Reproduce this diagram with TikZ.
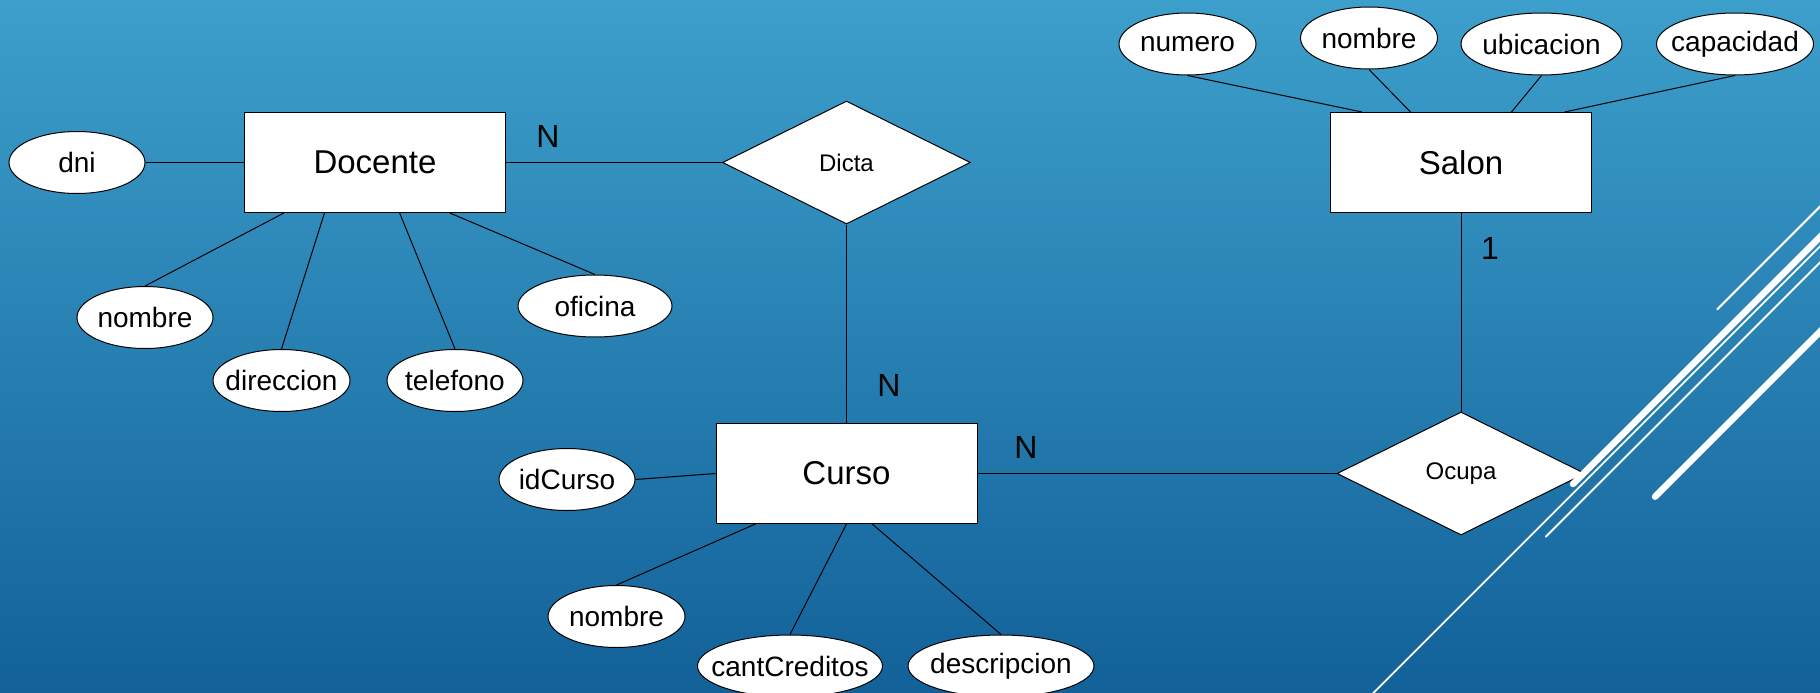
\documentclass[tikz,border=0pt]{standalone}
\usepackage{fontspec}
\setmainfont{Liberation Sans}
\usetikzlibrary{shapes.geometric}
\definecolor{bgtop}{RGB}{61,159,203}
\definecolor{bgbot}{RGB}{18,97,153}
\newcommand\Tag[1]{\makebox[0pt]{#1}}
\tikzset{
  entity/.style={
    draw,
    fill=white,
    line width=1pt,
    minimum width=261,
    minimum height=100,
    inner sep=0,
    font=\fontsize{33}{36}\selectfont
  },
  attr/.style={
    ellipse,
    draw,
    fill=white,
    line width=1pt,
    minimum height=62,
    inner sep=0,
    font=\fontsize{28}{30}\selectfont
  },
  rel/.style={
    diamond,
    draw,
    fill=white,
    line width=1pt,
    minimum width=248,
    minimum height=123,
    inner sep=0,
    font=\fontsize{24}{26}\selectfont
  },
  card/.style={
    inner sep=0,
    font=\fontsize{32}{34}\selectfont
  },
  link/.style={line width=1pt},
  deco/.style={white, line cap=round}
}
\begin{document}
\begin{tikzpicture}[x=1pt, y=-1pt]
    \useasboundingbox (0,0) rectangle (1820,693);
    \clip (0,0) rectangle (1820,693);
    \shade[top color=bgtop, bottom color=bgbot] (0,0) rectangle (1820,693);

    % entidades y relaciones
    \node[entity] (docente) at (375,162.5) {Docente};
    \node[entity] (curso) at (846.5,473.5) {Curso};
    \node[entity] (salon) at (1461,162.5) {Salon};
    \node[rel] (dicta) at (846.5,162.5) {Dicta};
    \node[rel] (ocupa) at (1461,473.5) {Ocupa};

    % atributos de Docente
    \node[attr, minimum width=136] (dni) at (77,162.5) {\Tag{dni}};
    \node[attr, minimum width=136] (dnombre) at (145,317.5) {\Tag{nombre}};
    \node[attr, minimum width=137] (direccion) at (281.5,380.5) {\Tag{direccion}};
    \node[attr, minimum width=136] (telefono) at (455,380.5) {\Tag{telefono}};
    \node[attr, minimum width=154] (oficina) at (595,306) {\Tag{oficina}};

    % atributos de Curso
    \node[attr, minimum width=136] (idcurso) at (567,479.5) {\Tag{idCurso}};
    \node[attr, minimum width=137] (cnombre) at (616.5,616.5) {\Tag{nombre}};
    \node[attr, minimum width=185] (creditos) at (790,666) {\Tag{cantCreditos}};
    \node[attr, minimum width=186] (descripcion) at (1001,666) {\Tag{descripcion}};

    % atributos de Salon
    \node[attr, minimum width=137] (numero) at (1187.5,44) {\Tag{numero}};
    \node[attr, minimum width=137] (snombre) at (1369,38) {\Tag{nombre}};
    \node[attr, minimum width=161] (ubicacion) at (1541.5,44) {\Tag{ubicacion}};
    \node[attr, minimum width=157] (capacidad) at (1735,44) {\Tag{capacidad}};

    \draw[link] (dni.east) -- (docente.west);
    \draw[link] (docente.209.6) -- (dnombre.north);
    \draw[link] (docente.225) -- (direccion.north);
    \draw[link] (docente.296.6) -- (telefono.north);
    \draw[link] (docente.326.3) -- (oficina.north);

    \draw[link] (idcurso.east) -- (curso.west);
    \draw[link] (curso.209.7) -- (cnombre.north);
    \draw[link] (curso.south) -- (creditos.north);
    \draw[link] (curso.297) -- (descripcion.north);

    \draw[link] (salon.153.2) -- (numero.south);
    \draw[link] (salon.135) -- (snombre.south);
    \draw[link] (salon.45.6) -- (ubicacion.south);
    \draw[link] (salon.26.7) -- (capacidad.south);

    \draw[link] (docente.east) -- (dicta.west);
    \draw[link] (dicta.south) -- (curso.north);
    \draw[link] (curso.east) -- (ocupa.west);
    \draw[link] (salon.south) -- (ocupa.north);

    % cardinalidades
    \node[card] (nDocente) at (548,136) {N};
    \node[card] (nCursoA) at (889,385) {N};
    \node[card] (nCursoB) at (1026,447) {N};
    \node[card] (uSalon) at (1490,248) {1};

    % lineas decorativas
    \draw[deco, line width=2pt] (1717.3,309.3) -- (1900,126.6);
    \draw[deco, line width=6.5pt] (1573,484) -- (1900,157);
    \draw[deco, line width=1.8pt] (1340,726.3) -- (1900,166.3);
    \draw[deco, line width=2pt] (1545.7,536.7) -- (1900,182.4);
    \draw[deco, line width=6.5pt] (1655,496.7) -- (1900,251.7);
\end{tikzpicture}
\end{document}
